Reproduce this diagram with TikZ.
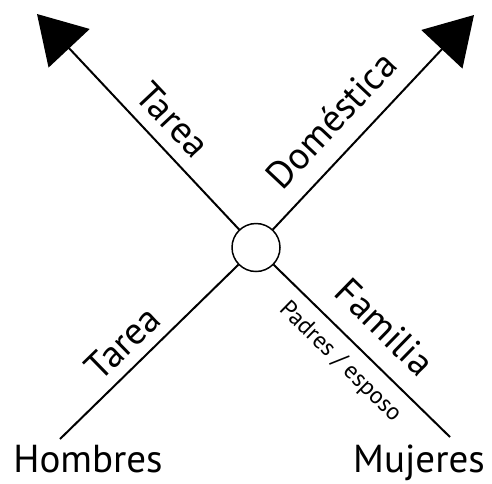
\documentclass[tikz,border=0pt]{standalone}
\usepackage{fontspec}
\setmainfont{PT Sans}
\usetikzlibrary{arrows.meta}
\begin{document}
\begin{tikzpicture}[x=1pt,y=-1pt,
  axis/.style={line width=2pt, -{Triangle[length=47pt,width=56pt]}},
  plain/.style={line width=2pt},
  lbl/.style={font=\fontsize{38}{40}\selectfont, inner sep=0pt},
  small/.style={font=\fontsize{24}{26}\selectfont, inner sep=0pt},
  end/.style={font=\fontsize{39}{42}\selectfont, inner sep=0pt, anchor=base}]
\useasboundingbox (0,0) rectangle (492,483);
\node[draw, circle, line width=1.5pt, minimum size=48pt, inner sep=0pt] (c) at (256,247.5) {};
\coordinate (tl) at (37,14);
\coordinate (tr) at (474,15);
\coordinate (bl) at (60,439);
\coordinate (br) at (450,437);
\draw[axis] (c) -- (tl);
\draw[axis] (c) -- (tr);
\draw[plain] (c) -- (bl);
\draw[plain] (c) -- (br);
\node[lbl, rotate=-46.8] (t1) at (173,120) {Tarea};
\node[lbl, rotate=46.8] (d) at (331,120) {Doméstica};
\node[lbl, rotate=44.3] (t2) at (123,343) {Tarea};
\node[lbl, rotate=-44.3] (f) at (385,327) {Familia};
\node[small, rotate=-44.3] (p) at (340,362) {Padres / esposo};
\node[end] (h) at (88,472) {Hombres};
\node[end] (m) at (419,472) {Mujeres};
\end{tikzpicture}
\end{document}
